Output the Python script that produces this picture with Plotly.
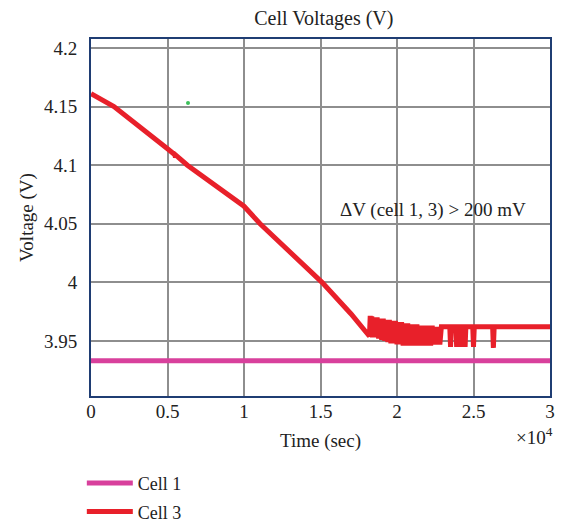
import plotly.graph_objects as go

# ---- data (time in seconds, voltage in V) ----
cell1_time = [0, 30000]
cell1_volt = [3.933, 3.933]

cell3_time = [0, 1500, 5000, 5480, 5520, 5560, 6300, 10000, 11050, 13000,
              15100, 17000, 18200,
              18250, 18300, 18350, 18400, 18500, 18600, 18700, 18800, 18900, 19000,
              19100, 19200, 19300, 19400, 19500, 19600, 19700, 19800, 19900, 20000,
              20100, 20200, 20300, 20400, 20500, 20600, 20700, 20800, 20900, 21000,
              21100, 21200, 21300, 21400, 21500, 21600, 21700, 21800, 21900, 22000,
              22100, 22200, 22300, 22400, 22500, 22600, 22700, 22800, 22900,
              23450, 23500, 23550, 23850, 23900, 23950, 24100, 24150, 24200,
              24400, 24450, 24500, 24950, 25000, 25050, 26250, 26300, 26350, 30000]
cell3_volt = [4.161, 4.150, 4.114, 4.1089, 4.1065, 4.1083, 4.100, 4.065, 4.050, 4.026,
              4.000, 3.973, 3.954,
              3.9715, 3.954, 3.971, 3.953, 3.970, 3.953, 3.970, 3.952, 3.969, 3.951,
              3.969, 3.950, 3.968, 3.949, 3.968, 3.948, 3.967, 3.948, 3.967, 3.947,
              3.966, 3.947, 3.966, 3.946, 3.965, 3.946, 3.965, 3.946, 3.964, 3.946,
              3.964, 3.946, 3.964, 3.946, 3.963, 3.946, 3.963, 3.946, 3.963, 3.946,
              3.963, 3.946, 3.963, 3.947, 3.962, 3.947, 3.962, 3.947, 3.962,
              3.962, 3.945, 3.962, 3.962, 3.945, 3.962, 3.962, 3.945, 3.962,
              3.962, 3.945, 3.962, 3.962, 3.945, 3.962, 3.962, 3.944, 3.962, 3.962]

stray_time = [6340]
stray_volt = [4.153]

x_tickvals = [0, 5000, 10000, 15000, 20000, 25000, 30000]
x_ticktext = ["0", "0.5", "1", "1.5", "2", "2.5", "3"]
y_tickvals = [3.95, 4.0, 4.05, 4.1, 4.15, 4.2]
y_ticktext = ["3.95", "4", "4.05", "4.1", "4.15", "4.2"]

FONT = "Liberation Serif"
FS = 19
NAVY = "#1f3d73"
GRID = "#8e8e8e"
TXT = "#222"

fig = go.Figure()
fig.add_trace(go.Scatter(x=cell1_time, y=cell1_volt, mode="lines", name="Cell 1",
                         legendgroup="c1",
                         line=dict(color="#d8409c", width=5)))
fig.add_trace(go.Scatter(x=cell3_time, y=cell3_volt, mode="lines", name="Cell 3",
                         legendgroup="c3",
                         line=dict(color="#e8202a", width=5)))
fig.add_trace(go.Scatter(x=stray_time, y=stray_volt, mode="markers", showlegend=False,
                         marker=dict(color="#3cc05a", size=4)))

fig.update_layout(
    width=557, height=515,
    margin=dict(l=83, r=15, t=31, b=127, autoexpand=False),
    paper_bgcolor="white", plot_bgcolor="white",
    font=dict(family=FONT, size=FS, color=TXT),
    title=dict(text="Cell Voltages (V)", x=0.567, xanchor="center",
               y=1 - 10 / 515, yanchor="middle",
               font=dict(family=FONT, size=20, color=TXT)),
    showlegend=True,
    legend=dict(x=-0.02, y=-0.193, xanchor="left", yanchor="top", orientation="v",
                font=dict(family=FONT, size=18, color=TXT), bgcolor="rgba(0,0,0,0)",
                itemwidth=46, tracegroupgap=2),
    xaxis=dict(range=[0, 30000], tickvals=x_tickvals, ticktext=x_ticktext,
               showgrid=True, gridcolor=GRID, gridwidth=1.5,
               showline=True, linecolor=NAVY, linewidth=2, mirror=True,
               ticks="", zeroline=False, ticklabelstandoff=-3,
               title=dict(text="Time (sec)", font=dict(family=FONT, size=FS), standoff=13)),
    yaxis=dict(range=[3.903, 4.2077], tickvals=y_tickvals, ticktext=y_ticktext,
               showgrid=True, gridcolor=GRID, gridwidth=1.5,
               showline=True, linecolor=NAVY, linewidth=2, mirror=True,
               ticks="", zeroline=False, ticklabelstandoff=8,
               title=dict(text="Voltage (V)", font=dict(family=FONT, size=FS), standoff=5)),
    annotations=[
        dict(text="ΔV (cell 1, 3) > 200 mV", x=22350, y=4.062, xref="x", yref="y",
             showarrow=False, font=dict(family=FONT, size=FS, color=TXT)),
        dict(text="×10<sup>4</sup>", x=1.01, y=-0.112, xref="paper", yref="paper",
             xanchor="right", yanchor="middle", showarrow=False,
             font=dict(family=FONT, size=FS, color=TXT)),
    ],
)

fig.write_html("out.html")
